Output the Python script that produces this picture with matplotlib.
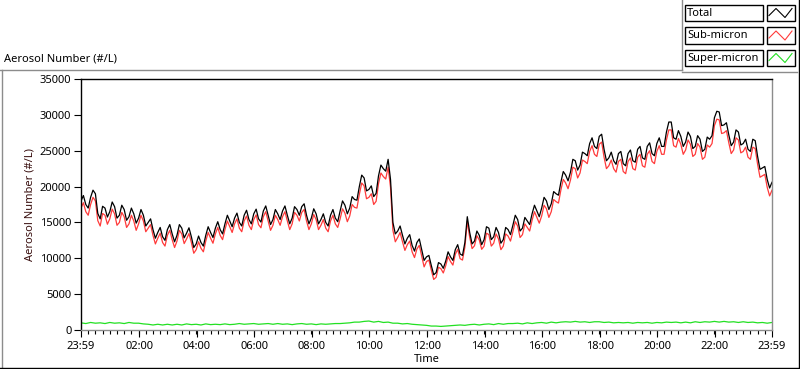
import matplotlib
matplotlib.use("Agg")
import matplotlib.pyplot as plt
from matplotlib.lines import Line2D
from matplotlib.patches import Rectangle
import numpy as np

plt.rcParams['font.family'] = ['Noto Sans', 'DejaVu Sans']

# 5-minute samples (total, sub-micron), hours since 23:59 start
total = [18000, 18750, 17500, 17000, 18500, 19500, 19000, 16250, 15500, 17250, 17000, 15750,
         16500, 17850, 17200, 15600, 16000, 17400, 16800, 15300, 15800, 17000, 16200, 14900,
         15600, 16800, 16000, 14500, 15000, 15500, 14000, 12800, 13600, 14300, 13000, 12500,
         14000, 14700, 13400, 12300, 13200, 14700, 14200, 12850, 13500, 14250, 13000, 11500,
         12000, 13100, 12200, 11700, 13200, 14400, 13600, 12900, 14200, 15100, 14000, 13400,
         14800, 16000, 15200, 14400, 15600, 16300, 15000, 14500, 16000, 16700, 15400, 14800,
         16200, 16850, 15500, 15050, 16600, 17300, 16000, 14700, 15400, 16800, 16200, 15400,
         16600, 17300, 16000, 14800, 15600, 17200, 16800, 16000, 17200, 17600, 16000, 14800,
         15600, 16900, 16200, 14800, 15400, 16200, 15000, 14500, 16000, 16800, 15600, 15100,
         16600, 18000, 17400, 16200, 17000, 18600, 18200, 18100, 20000, 21600, 21200, 19400,
         19600, 20100, 18600, 19050, 21500, 23000, 22500, 22150, 23800, 21000, 15000, 13400,
         13800, 14500, 13200, 12000, 12800, 13300, 11800, 11000, 12200, 12700, 11200, 9700,
         10200, 10400, 9000, 7700, 8000, 9400, 9200, 8600, 9600, 10900, 10200, 9700,
         11200, 11900, 10600, 10400, 12200, 15800, 13600, 12000, 12400, 13800, 13200, 11900,
         12600, 14400, 14200, 12600, 13000, 14300, 13600, 12100, 12600, 14300, 14000, 13300,
         14600, 16000, 15400, 13800, 14200, 15700, 15200, 14700, 16200, 17400, 16600, 15800,
         17000, 18500, 18000, 16800, 17600, 19300, 19000, 18800, 20600, 22100, 21600, 20800,
         22000, 23800, 23600, 22300, 23000, 24800, 24600, 24300, 26000, 26800, 25600, 25300,
         27000, 27300, 25200, 23600, 24000, 24800, 23600, 23100, 24600, 24900, 23200, 22900,
         24600, 25100, 23600, 23400, 25200, 25600, 24000, 23800, 25600, 26100, 24600, 24300,
         26000, 26800, 25600, 25600, 27600, 29000, 29000, 26800, 26600, 27800, 27000, 25600,
         26200, 27600, 27000, 25300, 25600, 27100, 26600, 24900, 25200, 26900, 26600, 27100,
         29600, 30500, 30400, 28500, 28600, 28900, 27200, 25700, 26200, 27900, 27600, 25800,
         26000, 26600, 25200, 24900, 26600, 26400, 24200, 22400, 22600, 22800, 21000, 19800,
         20600]

sub_micron = [17000, 17750, 16500, 16000, 17500, 18500, 18000, 15250, 14500, 16250, 16000, 14750,
              15500, 16850, 16200, 14600, 15000, 16400, 15800, 14300, 14800, 16000, 15200, 13900,
              14800, 16000, 15200, 13700, 14200, 14700, 13200, 12000, 12800, 13500, 12200, 11700,
              13200, 13900, 12600, 11500, 12400, 13900, 13400, 12050, 12700, 13450, 12200, 10700,
              11200, 12300, 11400, 10900, 12400, 13600, 12800, 12100, 13400, 14300, 13200, 12600,
              14000, 15200, 14400, 13600, 14800, 15500, 14200, 13700, 15200, 15900, 14600, 14000,
              15400, 16050, 14700, 14250, 15800, 16500, 15200, 13900, 14600, 16000, 15400, 14600,
              15800, 16500, 15200, 14000, 14800, 16400, 16000, 15200, 16400, 16800, 15200, 14000,
              14800, 16100, 15400, 14000, 14600, 15400, 14200, 13700, 15200, 16000, 14800, 14300,
              15500, 16900, 16300, 15100, 15900, 17500, 17100, 17000, 18900, 20500, 20100, 18300,
              18500, 19000, 17500, 17950, 20400, 21900, 21400, 21050, 22700, 19900, 13900, 12300,
              12900, 13600, 12300, 11100, 11900, 12400, 10900, 10100, 11300, 11800, 10300, 8800,
              9550, 9750, 8350, 7050, 7350, 8750, 8550, 7950, 8950, 10250, 9550, 9050,
              10550, 11250, 9950, 9750, 11550, 15150, 12950, 11350, 11750, 13150, 12550, 11250,
              11700, 13500, 13300, 11700, 12100, 13400, 12700, 11200, 11700, 13400, 13100, 12400,
              13700, 15100, 14500, 12900, 13300, 14800, 14300, 13800, 15300, 16500, 15700, 14900,
              15900, 17400, 16900, 15700, 16500, 18200, 17900, 17700, 19500, 21000, 20500, 19700,
              20900, 22700, 22500, 21200, 21900, 23700, 23500, 23200, 24900, 25700, 24500, 24200,
              25900, 26200, 24100, 22500, 22900, 23700, 22500, 22000, 23500, 23800, 22100, 21800,
              23500, 24000, 22500, 22300, 24100, 24500, 22900, 22700, 24500, 25000, 23500, 23200,
              24900, 25700, 24500, 24500, 26500, 27900, 27900, 25700, 25500, 26700, 25900, 24500,
              25100, 26500, 25900, 24200, 24500, 26000, 25500, 23800, 24100, 25800, 25500, 26000,
              28500, 29400, 29300, 27400, 27500, 27800, 26100, 24600, 25100, 26800, 26500, 24700,
              24900, 25500, 24100, 23800, 25500, 25300, 23100, 21300, 21500, 21700, 19900, 18700,
              19500]

# 10-minute samples
super_micron = [1000, 900, 1050, 950, 1000, 900,
                1050, 950, 1000, 900, 1050, 950,
                950, 850, 800, 700, 800, 700,
                800, 700, 800, 700, 850, 750,
                800, 700, 850, 750, 800, 750,
                850, 750, 800, 900, 800, 850,
                900, 800, 850, 900, 800, 900,
                800, 850, 750, 850, 900, 800,
                850, 750, 850, 800, 850, 900,
                900, 950, 1000, 1100, 1100, 1200,
                1250, 1100, 1200, 1050, 1100, 950,
                950, 850, 900, 800, 750, 700,
                650, 550, 550, 500, 550, 600,
                650, 700, 650, 750, 800, 700,
                800, 850, 750, 900, 800, 900,
                900, 950, 850, 1000, 900, 1000,
                1050, 950, 1100, 1000, 1100, 1150,
                1100, 1200, 1100, 1150, 1050, 1150,
                1150, 1050, 1100, 1000, 1050, 1000,
                1050, 950, 1050, 1000, 1050, 950,
                1050, 1000, 1100, 1050, 1100, 1000,
                1100, 1000, 1150, 1050, 1150, 1100,
                1200, 1100, 1200, 1100, 1150, 1050,
                1150, 1050, 1100, 1000, 1050, 950,
                1050]

major_labels = ['23:59', '02:00', '04:00', '06:00', '08:00', '10:00', '12:00',
                '14:00', '16:00', '18:00', '20:00', '22:00', '23:59']
legend_names = ['Total', 'Sub-micron', 'Super-micron']
colors = ['#000000', '#ff3a3a', '#22e022']

start = -1/60.0
t5 = start + np.arange(len(total)) / 12.0
t10 = start + np.arange(len(super_micron)) / 6.0

W, H = 800, 369
fig = plt.figure(figsize=(W/100, H/100), dpi=100)
ax = fig.add_axes([81/W, 1-330/H, (772-81)/W, (330-79)/H])

ax.plot(t10, super_micron, color=colors[2], lw=0.9)
ax.plot(t5, sub_micron, color=colors[1], lw=0.9)
ax.plot(t5, total, color=colors[0], lw=0.9)

ax.set_xlim(start, start + 24)
ax.set_ylim(0, 35000)
major_pos = [start] + list(range(2, 24, 2)) + [start + 24]
ax.set_xticks(major_pos)
ax.set_xticklabels(major_labels)
ax.set_xticks(start + np.arange(0, 97) * 0.25, minor=True)
ax.set_yticks(np.arange(0, 35001, 5000))
ax.tick_params(axis='x', which='major', length=5, width=0.8, pad=3, labelsize=8, color='black')
ax.tick_params(axis='x', which='minor', length=3, width=0.8, color='black')
ax.tick_params(axis='y', which='major', length=5, width=0.8, pad=2, labelsize=8, color='black')
for sp in ['left', 'top']:
    ax.spines[sp].set_color('black')
    ax.spines[sp].set_linewidth(1)
for sp in ['right', 'bottom']:
    ax.spines[sp].set_color('#8c8c8c')
    ax.spines[sp].set_linewidth(1)

ax.set_xlabel('Time', fontsize=8, labelpad=1)
ax.set_ylabel('Aerosol Number (#/L)', fontsize=8, color='#3a1010', labelpad=3)

def px_line(x0, y0, x1, y1, c):
    fig.add_artist(Line2D([x0/W, x1/W], [1-y0/H, 1-y1/H], color=c, lw=1,
                          transform=fig.transFigure))

# outer panel borders
px_line(0, 69.5, 681.5, 69.5, '#8c8c8c')
px_line(1.5, 69.5, 1.5, 368, '#8c8c8c')
px_line(0, 367.5, 799, 367.5, 'black')
px_line(681.5, 0, 681.5, 69.5, '#8c8c8c')
px_line(681.5, 71.5, 797, 71.5, '#8c8c8c')
px_line(798.5, 0, 798.5, 369, 'black')

fig.text(4/W, 1-59/H, 'Aerosol Number (#/L)', fontsize=8, va='center', ha='left')

# legend
for i, (name, c) in enumerate(zip(legend_names, colors)):
    y0 = 4.5 + i*22.5
    y1 = y0 + 16.5
    fig.add_artist(Rectangle((684.5/W, 1-y1/H), 78/W, 16.5/H, transform=fig.transFigure,
                             facecolor='white', edgecolor='black', lw=1))
    fig.text(687/W, 1-(y0+8.5)/H, name, fontsize=8, va='center', ha='left')
    fig.add_artist(Rectangle((766.5/W, 1-y1/H), 28.5/W, 16.5/H, transform=fig.transFigure,
                             facecolor='white', edgecolor='black', lw=1))
    xs = np.array([769, 776, 785, 792])
    ys = np.array([y0+11, y0+4, y0+13, y0+4])
    fig.add_artist(Line2D(xs/W, 1-ys/H, color=c, lw=0.8, transform=fig.transFigure))

fig.savefig('out.png', dpi=100)
